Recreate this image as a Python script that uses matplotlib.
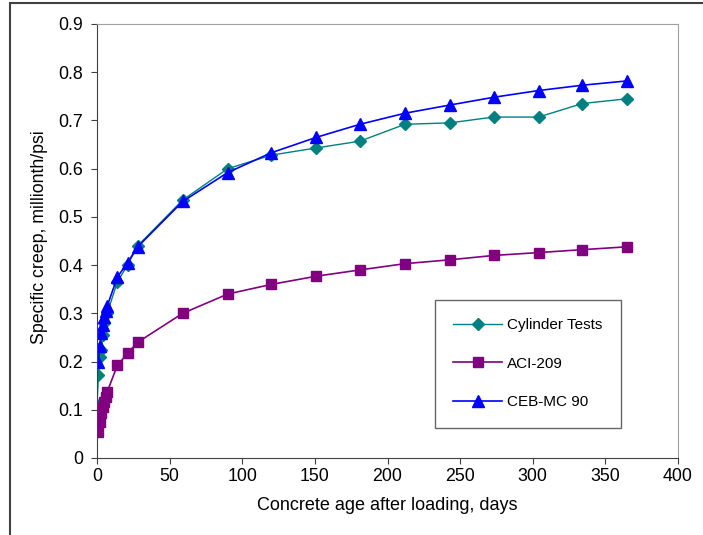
import numpy as np
import matplotlib
matplotlib.use("Agg")
import matplotlib.pyplot as plt
from matplotlib.patches import Rectangle

plt.rcParams['font.family'] = ['Liberation Sans', 'DejaVu Sans']

# Cylinder test data
cyl_days = [0, 1, 2, 3, 4, 5, 7, 14, 21, 28, 59, 90, 120, 151, 181, 212, 243, 273, 304, 334, 365]
cyl_creep = [0.11, 0.172, 0.21, 0.224, 0.255, 0.28, 0.30, 0.365, 0.40, 0.44, 0.535, 0.60, 0.628,
             0.643, 0.657, 0.692, 0.695, 0.707, 0.707, 0.735, 0.745]

# ACI-209 prediction
aci_days = [1, 2, 3, 4, 5, 6, 7, 14, 21, 28, 59, 90, 120, 151, 181, 212, 243, 273, 304, 334, 365]
aci_creep = [0.054, 0.075, 0.093, 0.106, 0.116, 0.127, 0.137, 0.192, 0.217, 0.24, 0.30, 0.34, 0.36,
             0.377, 0.39, 0.403, 0.411, 0.42, 0.426, 0.432, 0.438]

# CEB-MC 90 prediction
ceb_days = [1, 2, 3, 4, 5, 6, 7, 14, 21, 28, 59, 90, 120, 151, 181, 212, 243, 273, 304, 334, 365]
ceb_creep = [0.20, 0.232, 0.259, 0.276, 0.293, 0.305, 0.315, 0.375, 0.405, 0.438, 0.532, 0.592, 0.633,
             0.665, 0.692, 0.715, 0.732, 0.748, 0.762, 0.773, 0.782]

fig = plt.figure(figsize=(7.03, 5.35), dpi=100)
# outer chart border
fig.patches.append(Rectangle((10 / 703, -0.1), 1.2, 1 - 3 / 535 + 0.1, transform=fig.transFigure,
                             fill=False, edgecolor='#404040', linewidth=1.5))

ax = fig.add_axes([97 / 703, 1 - 458 / 535, 581 / 703, 434 / 535])

ax.plot(cyl_days, cyl_creep, color='#008080', marker='D', markersize=6, linewidth=1,
        label='Cylinder Tests')
ax.plot(aci_days, aci_creep, color='#800080', marker='s', markersize=6.5, linewidth=1.2,
        label='ACI-209')
ax.plot(ceb_days, ceb_creep, color='#0000FF', marker='^', markersize=8, linewidth=1.2,
        label='CEB-MC 90')

ax.set_xlim(0, 400)
ax.set_ylim(0, 0.9)
ax.set_xticks(np.arange(0, 401, 50))
ax.set_yticks(np.arange(0, 0.91, 0.1))
ax.set_yticklabels(['0', '0.1', '0.2', '0.3', '0.4', '0.5', '0.6', '0.7', '0.8', '0.9'])
ax.tick_params(direction='out', length=4, labelsize=12.8, color='#404040')
ax.tick_params(axis='y', pad=6)
ax.set_xlabel('Concrete age after loading, days', fontsize=13, labelpad=8)
ax.set_ylabel('Specific creep, millionth/psi', fontsize=12.8)
ax.yaxis.set_label_coords(-0.085, 0.51)

for side in ['top', 'right']:
    ax.spines[side].set_color('#a0a0a0')
for side in ['left', 'bottom']:
    ax.spines[side].set_color('#404040')

leg = ax.legend(loc='upper left', bbox_to_anchor=((435 - 97) / 581, (458 - 300) / 434),
                fontsize=11, frameon=True, fancybox=False, labelspacing=1.6,
                borderpad=1.2, handlelength=3.2, handletextpad=0.3, borderaxespad=0)
leg.get_frame().set_edgecolor('#404040')
leg.get_frame().set_linewidth(1)

fig.savefig('out.png', dpi=100)
